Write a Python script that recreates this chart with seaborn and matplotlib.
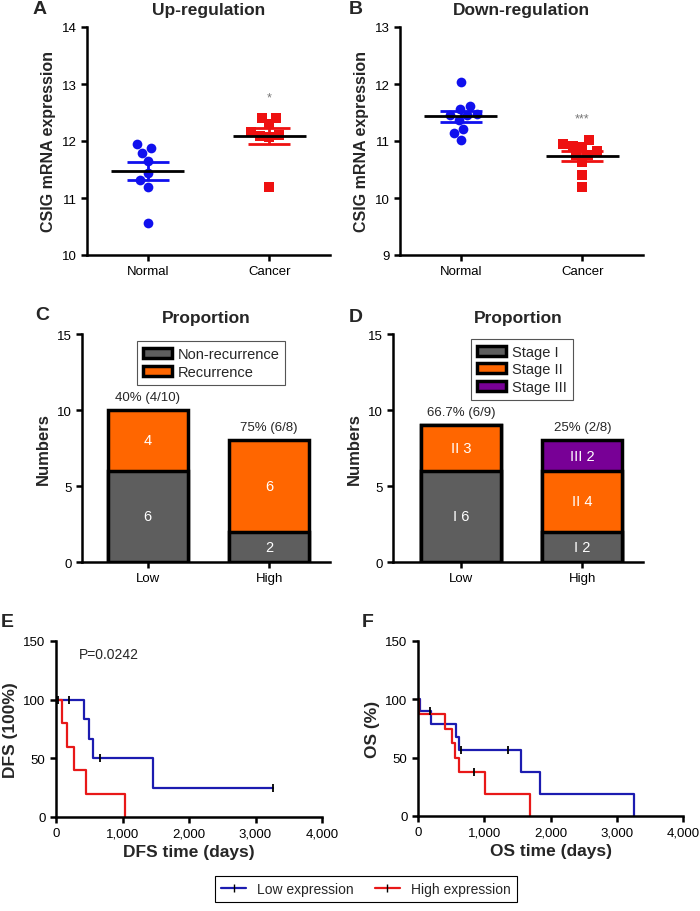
import matplotlib
matplotlib.use("Agg")
import matplotlib.pyplot as plt
from matplotlib.lines import Line2D
from matplotlib.patches import Patch
from matplotlib.ticker import StrMethodFormatter
import numpy as np
import pandas as pd
import seaborn as sns

# ── Data ───────────────────────────────────────────────────────────────────
expr_groups = ["Normal", "Cancer"]
up_normal = [11.94, 11.88, 11.79, 11.65, 11.44, 11.31, 11.19, 10.56]
up_cancer = [12.41, 12.40, 12.30, 12.16, 12.10, 12.07, 12.08, 11.19]
down_normal = [12.03, 11.62, 11.57, 11.47, 11.46, 11.45, 11.36, 11.21, 11.14, 11.01]
down_cancer = [11.02, 10.94, 10.92, 10.90, 10.83, 10.76, 10.75, 10.63, 10.41, 10.20]

levels = ["Low", "High"]
recur_no = [6, 2]
recur_yes = [4, 6]
recur_pct = ["40% (4/10)", "75% (6/8)"]
stage_1 = [6, 2]
stage_2 = [3, 4]
stage_3 = [0, 2]
stage_pct = ["66.7% (6/9)", "25% (2/8)"]

dfs_low_t = [0, 422, 497, 558, 1453, 3261]
dfs_low_s = [100, 83.3, 66.7, 50, 25, 25]
dfs_low_cens_t = [30, 191, 669, 3261]
dfs_low_cens_s = [100, 100, 50, 25]
dfs_high_t = [0, 96, 166, 267, 458, 1037]
dfs_high_s = [100, 80, 60, 40, 20, 0]

os_low_t = [0, 25, 190, 579, 615, 1560, 1847, 3255]
os_low_s = [100, 90, 78.75, 67.5, 56.25, 37.5, 18.75, 0]
os_low_cens_t = [180, 654, 1358]
os_low_cens_s = [90, 56.25, 56.25]
os_high_t = [0, 10, 413, 510, 560, 625, 1006, 1686]
os_high_s = [100, 87.5, 75, 62.5, 50, 37.5, 18.75, 0]
os_high_cens_t = [840]
os_high_cens_s = [37.5]

# ── Style ──────────────────────────────────────────────────────────────────
sns.set_theme(style="ticks")
plt.rcParams["font.family"] = ["Liberation Sans", "DejaVu Sans"]
plt.rcParams.update({
    "axes.linewidth": 1.8,
    "xtick.major.width": 1.8, "ytick.major.width": 1.8,
    "xtick.major.size": 4, "ytick.major.size": 4,
    "xtick.labelsize": 9.5, "ytick.labelsize": 9.5,
    "xtick.color": "black", "ytick.color": "black",
    "axes.edgecolor": "black",
})

BLUE, RED = "#1010ee", "#ee1111"
KM_BLUE, KM_RED = "#1c1cb0", "#e81818"
GRAY, ORANGE, PURPLE = "#5e5e5e", "#ff6600", "#780096"

W, H = 700, 912
fig = plt.figure(figsize=(W / 100, H / 100), dpi=100)


def px_axes(x0, y0, x1, y1):
    return fig.add_axes([x0 / W, 1 - y1 / H, (x1 - x0) / W, (y1 - y0) / H])


def panel_letter(x, y, s):
    fig.text(x / W, 1 - y / H, s, fontsize=14, fontweight="bold", ha="center", va="center")


# ── A / B: scatter dot plots ──────────────────────────────────────────────
def dot_panel(ax, normal, cancer, title, ylim, star, star_y):
    df = pd.DataFrame({"group": ["Normal"] * len(normal) + ["Cancer"] * len(cancer),
                       "value": normal + cancer})
    for i, (g, c, m, sz) in enumerate([("Normal", BLUE, "o", 7.0), ("Cancer", RED, "s", 6.6)]):
        sub = df[df["group"] == g]
        sns.swarmplot(data=sub, x="group", y="value", order=expr_groups, color=c,
                      marker=m, size=sz, linewidth=0, ax=ax, zorder=2)
        vals = sub["value"].to_numpy()
        mean = vals.mean()
        sem = vals.std(ddof=1) / np.sqrt(len(vals))
        ax.errorbar(i, mean, yerr=sem, fmt="none", ecolor=c, elinewidth=2,
                    capsize=15, capthick=2, zorder=3)
        ax.hlines(mean, i - 0.3, i + 0.3, color="black", lw=2, zorder=4)
    ax.text(1, star_y, star, ha="center", va="center", fontsize=9, color="#777777")
    ax.set_xlim(-0.5, 1.5)
    ax.set_ylim(*ylim)
    ax.set_yticks(range(ylim[0], ylim[1] + 1))
    ax.set_xlabel("")
    ax.set_ylabel("CSIG mRNA expression", fontsize=11.5, fontweight="bold")
    ax.set_title(title, fontsize=12.5, fontweight="bold", pad=9)
    sns.despine(ax=ax)


axA = px_axes(87, 28, 330, 256)
dot_panel(axA, up_normal, up_cancer, "Up-regulation", (10, 14), "*", 12.77)
axB = px_axes(400, 28, 643, 256)
dot_panel(axB, down_normal, down_cancer, "Down-regulation", (9, 13), "***", 11.39)

# ── C / D: stacked bars ───────────────────────────────────────────────────
def bar_layer(ax, heights, color):
    sns.barplot(x=levels, y=heights, color=color, saturation=1, edgecolor="black",
                linewidth=2.5, width=0.66, errorbar=None, ax=ax)


def bar_axes(ax, xlo):
    ax.set_xlim(xlo, 1.5)
    ax.set_ylim(0, 15)
    ax.set_yticks([0, 5, 10, 15])
    ax.set_ylabel("Numbers", fontsize=12, fontweight="bold")
    ax.set_title("Proportion", fontsize=12.5, fontweight="bold", pad=9)
    sns.despine(ax=ax)


def box_legend(ax, labels, colors, anchor):
    handles = [Patch(facecolor=c, edgecolor="black", linewidth=2.5) for c in colors]
    leg = ax.legend(handles, labels, loc="upper center", bbox_to_anchor=anchor,
                    fontsize=10.5, frameon=True, fancybox=False, framealpha=1,
                    edgecolor="#555555", handlelength=2.0, handleheight=0.7,
                    handletextpad=0.4, borderpad=0.4, labelspacing=0.25)
    leg.get_frame().set_linewidth(0.8)


axC = px_axes(82, 335, 330, 563)
totals_c = np.add(recur_no, recur_yes)
bar_layer(axC, totals_c, ORANGE)
bar_layer(axC, recur_no, GRAY)
for i in range(len(levels)):
    axC.text(i, recur_no[i] / 2, str(recur_no[i]), ha="center", va="center", color="white", fontsize=10.5)
    axC.text(i, recur_no[i] + recur_yes[i] / 2, str(recur_yes[i]), ha="center", va="center",
             color="white", fontsize=10.5)
    axC.text(i, totals_c[i] + 0.85, recur_pct[i], ha="center", va="center", fontsize=9.5)
bar_axes(axC, -0.54)
box_legend(axC, ["Non-recurrence", "Recurrence"], [GRAY, ORANGE], (0.52, 1.0))

axD = px_axes(393, 335, 643, 563)
s12 = np.add(stage_1, stage_2)
totals_d = np.add(s12, stage_3)
bar_layer(axD, totals_d, PURPLE)
bar_layer(axD, s12, ORANGE)
bar_layer(axD, stage_1, GRAY)
for i in range(len(levels)):
    bottom = 0
    for name, vals in [("I", stage_1), ("II", stage_2), ("III", stage_3)]:
        if vals[i] > 0:
            axD.text(i, bottom + vals[i] / 2, f"{name} {vals[i]}", ha="center", va="center",
                     color="white", fontsize=10.5)
        bottom += vals[i]
    axD.text(i, totals_d[i] + 0.85, stage_pct[i], ha="center", va="center", fontsize=9.5)
bar_axes(axD, -0.56)
box_legend(axD, ["Stage I", "Stage II", "Stage III"], [GRAY, ORANGE, PURPLE], (0.515, 1.01))

# ── E / F: Kaplan-Meier curves ────────────────────────────────────────────
def km_panel(ax, curves, cens, ylabel, xlabel):
    for t, s, c in curves:
        sns.lineplot(x=t, y=s, drawstyle="steps-post", color=c, lw=1.6,
                     estimator=None, ax=ax)
    for t, s in cens:
        sns.scatterplot(x=t, y=s, marker="|", color="black", s=28, linewidth=1.3, ax=ax, zorder=5)
    ax.set_xlim(0, 4000)
    ax.set_ylim(0, 150)
    ax.set_xticks([0, 1000, 2000, 3000, 4000])
    ax.set_yticks([0, 50, 100, 150])
    ax.xaxis.set_major_formatter(StrMethodFormatter("{x:,.0f}"))
    ax.set_ylabel(ylabel, fontsize=12.5, fontweight="bold")
    ax.set_xlabel(xlabel, fontsize=12.5, fontweight="bold", labelpad=3)
    sns.despine(ax=ax)


axE = px_axes(56, 642, 322, 818)
km_panel(axE,
         [(dfs_low_t, dfs_low_s, KM_BLUE), (dfs_high_t, dfs_high_s, KM_RED)],
         [(dfs_low_cens_t, dfs_low_cens_s)],
         "DFS (100%)", "DFS time (days)")
axE.text(350, 139, "P=0.0242", ha="left", va="center", fontsize=10)

axF = px_axes(418, 642, 683, 817)
km_panel(axF,
         [(os_low_t, os_low_s, KM_BLUE), (os_high_t, os_high_s, KM_RED)],
         [(os_low_cens_t, os_low_cens_s), (os_high_cens_t, os_high_cens_s)],
         "OS (%)", "OS time (days)")

# shared legend for survival panels
km_handles = [Line2D([0], [0], color=KM_BLUE, lw=1.6, marker="|", markeredgecolor="black", markersize=6),
              Line2D([0], [0], color=KM_RED, lw=1.6, marker="|", markeredgecolor="black", markersize=6)]
leg = fig.legend(km_handles, ["Low expression", "High expression"], loc="center",
                 bbox_to_anchor=(366 / W, 1 - 890 / H), ncol=2, fontsize=10, frameon=True,
                 fancybox=False, framealpha=1, edgecolor="black", handlelength=1.8,
                 columnspacing=1.5, borderpad=0.45)
leg.get_frame().set_linewidth(0.8)

# ── Panel letters ─────────────────────────────────────────────────────────
for x, y, s in [(40, 10, "A"), (356, 10, "B"), (42, 316, "C"), (356, 317, "D"),
                (7, 623, "E"), (368, 623, "F")]:
    panel_letter(x, y, s)

fig.savefig("out.png", dpi=100)
